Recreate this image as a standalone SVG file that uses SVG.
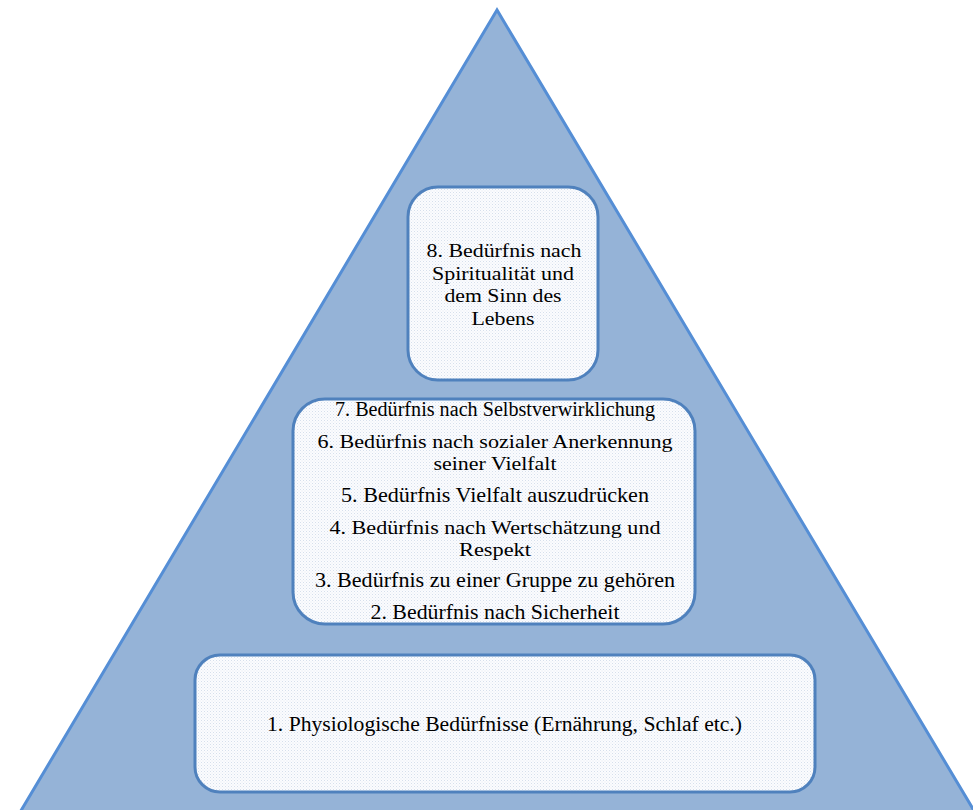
<svg xmlns="http://www.w3.org/2000/svg" width="973" height="810" viewBox="0 0 973 810">
<style>
.tri{fill:#95B3D7;stroke:#558ED5;stroke-width:3}
.box{fill:url(#dots);stroke:#4F81BD;stroke-width:3}
text{font-family:'Liberation Serif','Times New Roman',serif;fill:#000;text-anchor:middle}
.t1{font-size:19.6px}
.t2{font-size:21px}
.tp{font-size:19.8px}
.t3{font-size:21.6px}
.t0{font-size:20px}
</style>
<defs>
<pattern id="dots" width="3" height="3" patternUnits="userSpaceOnUse">
<rect width="3" height="3" fill="#FBFCFE"/>
<rect width="1" height="1" fill="#D6DFEC"/>
<rect x="1.5" y="1.5" width="1" height="1" fill="#E4EAF3"/>
</pattern>
</defs>
<rect width="973" height="810" fill="#FFFFFF"/>
<g id="pyramid">
<polygon class="tri" points="497,10 19,814 976,814"/>
</g>
<g id="connectors"></g>
<g id="node8">
<rect class="box" x="408" y="187" width="190" height="193" rx="30"/>
<text class="t1" x="504" y="257" textLength="155" lengthAdjust="spacingAndGlyphs">8. Bedürfnis nach</text>
<text class="t1" x="503" y="280" textLength="142" lengthAdjust="spacingAndGlyphs">Spiritualität und</text>
<text class="t1" x="503" y="302" textLength="117" lengthAdjust="spacingAndGlyphs">dem Sinn des</text>
<text class="t1" x="503" y="325" textLength="63" lengthAdjust="spacingAndGlyphs">Lebens</text>
</g>
<g id="node2-7">
<rect class="box" x="293" y="399" width="402" height="225" rx="32"/>
<text class="t0" x="495" y="416" textLength="320" lengthAdjust="spacingAndGlyphs">7. Bedürfnis nach Selbstverwirklichung</text>
<text class="tp" x="495" y="448" textLength="355" lengthAdjust="spacingAndGlyphs">6. Bedürfnis nach sozialer Anerkennung</text>
<text class="tp" x="495" y="470" textLength="123" lengthAdjust="spacingAndGlyphs">seiner Vielfalt</text>
<text class="t2" x="495" y="502" textLength="308" lengthAdjust="spacingAndGlyphs">5. Bedürfnis Vielfalt auszudrücken</text>
<text class="tp" x="495" y="534" textLength="331" lengthAdjust="spacingAndGlyphs">4. Bedürfnis nach Wertschätzung und</text>
<text class="tp" x="495" y="556" textLength="72" lengthAdjust="spacingAndGlyphs">Respekt</text>
<text class="t2" x="495" y="587" textLength="360" lengthAdjust="spacingAndGlyphs">3. Bedürfnis zu einer Gruppe zu gehören</text>
<text class="t2" x="495" y="619" textLength="249" lengthAdjust="spacingAndGlyphs">2. Bedürfnis nach Sicherheit</text>
</g>
<g id="node1">
<rect class="box" x="195" y="655" width="620" height="137" rx="25"/>
<text class="t3" x="504.5" y="731" textLength="475" lengthAdjust="spacingAndGlyphs">1. Physiologische Bedürfnisse (Ernährung, Schlaf etc.)</text>
</g>
</svg>
